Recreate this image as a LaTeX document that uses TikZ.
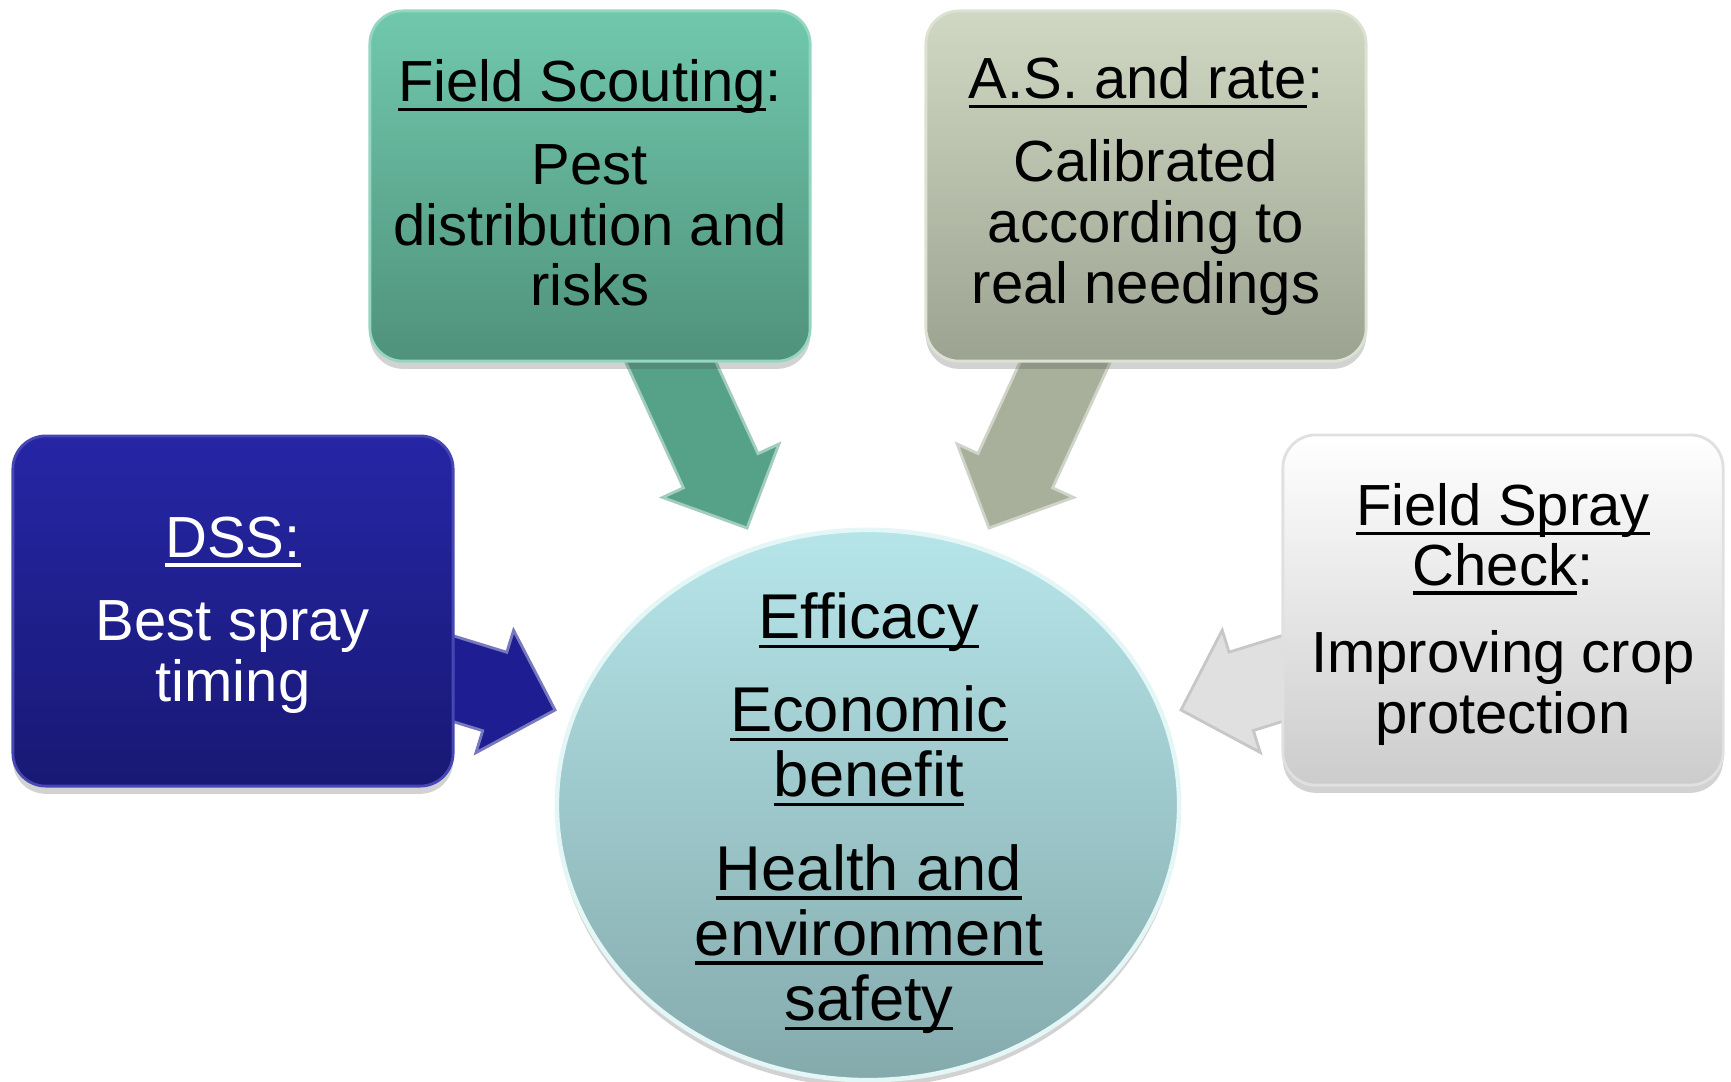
\documentclass[tikz,border=0pt]{standalone}
\usepackage{fontspec}
\setmainfont{Liberation Sans}
\usetikzlibrary{calc,shapes.geometric,shadows}

% underline at a fixed depth below the baseline
\newcommand{\uln}[1]{\mbox{\setbox0=\hbox{#1}\rlap{\vrule height -1.8pt depth 2.7pt width \wd0}\box0}}

% fills of the five parts
\definecolor{dssTop}{RGB}{38,38,166}
\definecolor{dssBot}{RGB}{24,24,116}
\definecolor{dssArrow}{RGB}{30,30,146}
\definecolor{scoutTop}{RGB}{112,200,172}
\definecolor{scoutBot}{RGB}{80,146,124}
\definecolor{scoutArrow}{RGB}{86,162,136}
\definecolor{rateTop}{RGB}{208,216,195}
\definecolor{rateBot}{RGB}{156,163,145}
\definecolor{rateArrow}{RGB}{168,176,156}
\definecolor{checkTop}{RGB}{255,255,255}
\definecolor{checkBot}{RGB}{204,204,204}
\definecolor{checkArrow}{RGB}{224,224,224}
\definecolor{goalTop}{RGB}{182,229,233}
\definecolor{goalBot}{RGB}{132,170,172}

\pgfdeclarelayer{back}
\pgfsetlayers{back,main}

% block arrow from the centre of node #1 to the point #2
\newcommand{\blockarrow}[3]{%
  \path ($(#2)!0.63cm!(#1)$) coordinate (hb);
  \filldraw[#3]
    ($(#1)!0.41cm!90:(#2)$) -- ($(hb)!0.41cm!-90:(#1)$) --
    ($(hb)!0.64cm!-90:(#1)$) -- (#2) --
    ($(hb)!0.64cm!90:(#1)$) -- ($(hb)!0.41cm!90:(#1)$) --
    ($(#1)!0.41cm!-90:(#2)$) -- cycle;
}

\tikzset{
  card/.style={rectangle, rounded corners=0.33cm,
    minimum width=4.4cm, minimum height=3.5cm, inner sep=0pt,
    align=center, font=\fontsize{16.5}{17.3}\selectfont,
    line width=0.8pt,
    drop shadow={shadow xshift=0pt, shadow yshift=-2.2pt,
      opacity=0.25, fill=black!70}},
  goalshape/.style={ellipse, minimum width=6.22cm, minimum height=5.5cm,
    inner sep=0pt, top color=goalTop, bottom color=goalBot,
    draw=white!65!goalTop, line width=1.3pt,
    drop shadow={shadow xshift=0pt, shadow yshift=-2pt,
      opacity=0.25, fill=black!70}},
  goaltext/.style={align=center, font=\fontsize{18}{18.5}\selectfont},
  arrowbody/.style={line width=0.8pt, line join=miter},
}

\begin{document}
\begin{tikzpicture}[x=0.01cm, y=-0.01cm]
  \useasboundingbox (0,0) rectangle (1731,1081);

  % the four sources
  \node[card, top color=dssTop, bottom color=dssBot,
        draw=dssTop!85!white, text=white] (dss) at (233,611)
    {\rule{0pt}{13.7pt}\uln{DSS:}\\[6.3pt] Best spray\\ timing};
  \node[card, top color=scoutTop, bottom color=scoutBot,
        draw=scoutTop!75!white] (scout) at (590,186)
    {\uln{Field Scouting}:\\[6.3pt] Pest\\ distribution and\\ risks\rule[-2pt]{0pt}{2pt}};
  \node[card, top color=rateTop, bottom color=rateBot,
        draw=rateTop!75!white] (rate) at (1146,186)
    {\uln{A.S. and rate}:\\[6.3pt] Calibrated\\ according to\\ real needings};
  \node[card, top color=checkTop, bottom color=checkBot,
        draw=black!12] (check) at (1503,610)
    {\rule{0pt}{14.5pt}\uln{Field Spray}\\[-0.5pt] \uln{Check}:\\[7.5pt] Improving crop\\ protection};

  % the goals in the middle
  \node[goalshape] (goal) at (868,805) {};
  \node[goaltext] (goaltxt) at (869,813)
    {\uln{Efficacy}\\[8pt] \uln{Economic}\\ \uln{benefit}\\[8pt]
     \uln{Health and}\\ \uln{environment}\\ \uln{safety}};

  % arrow tips at the rim of the ellipse
  \coordinate (tipDss) at (555,710);
  \coordinate (tipScout) at (747,528);
  \coordinate (tipRate) at (989,528);
  \coordinate (tipCheck) at (1181,710);

  \begin{pgfonlayer}{back}
    \blockarrow{dss}{tipDss}{arrowbody, fill=dssArrow, draw=dssArrow!60!white}
    \blockarrow{scout}{tipScout}{arrowbody, fill=scoutArrow, draw=scoutArrow!55!white}
    \blockarrow{rate}{tipRate}{arrowbody, fill=rateArrow, draw=rateArrow!55!white}
    \blockarrow{check}{tipCheck}{arrowbody, fill=checkArrow, draw=black!22}
  \end{pgfonlayer}
\end{tikzpicture}
\end{document}
